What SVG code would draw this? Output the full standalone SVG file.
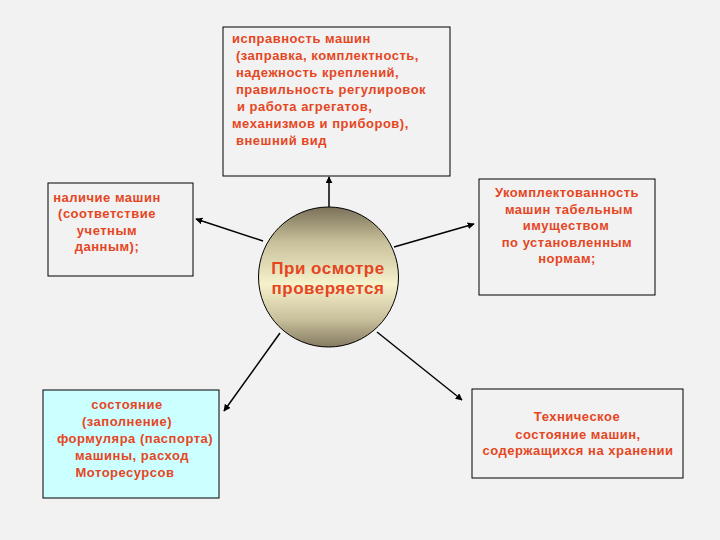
<svg xmlns="http://www.w3.org/2000/svg" width="720" height="540" viewBox="0 0 720 540">
<defs>
<style>
.box{fill:#f2f2f2;stroke:#000;stroke-width:1}
.t{font-family:"Liberation Sans",Arial,sans-serif;font-weight:bold;font-size:13px;fill:#e5461f;letter-spacing:0.5px}
.c{text-anchor:middle}
.conn{stroke:#000;stroke-width:1.5;fill:none;marker-end:url(#ah)}
</style>
<marker id="ah" viewBox="0 0 10 10" refX="9" refY="5" markerWidth="7" markerHeight="7" markerUnits="userSpaceOnUse" orient="auto">
<path d="M0,0 L10,5 L0,10 z" fill="#000"/>
</marker>
<linearGradient id="sph" x1="0" y1="0" x2="0" y2="1">
<stop offset="0" stop-color="#7a715a"/>
<stop offset="0.25" stop-color="#c8c09a"/>
<stop offset="0.55" stop-color="#f6f2cc"/>
<stop offset="0.8" stop-color="#c9c09c"/>
<stop offset="1" stop-color="#857b62"/>
</linearGradient>
</defs>
<rect width="720" height="540" fill="#f2f2f2"/>
<g id="connectors">
<line class="conn" x1="329" y1="207" x2="329" y2="177"/>
<line class="conn" x1="263" y1="241" x2="196" y2="219"/>
<line class="conn" x1="394" y1="247" x2="474" y2="224"/>
<line class="conn" x1="280" y1="333" x2="224" y2="411"/>
<line class="conn" x1="377" y1="332" x2="462" y2="400"/>
</g>
<g id="top">
<rect class="box" x="223" y="27" width="227" height="149"/>
<text class="t" x="232" y="43">исправность машин</text>
<text class="t" x="236" y="60">(заправка, комплектность,</text>
<text class="t" x="236" y="77">надежность креплений,</text>
<text class="t" x="236" y="94">правильность регулировок</text>
<text class="t" x="237" y="111">и работа агрегатов,</text>
<text class="t" x="232" y="128">механизмов и приборов),</text>
<text class="t" x="236" y="145">внешний вид</text>
</g>
<g id="left">
<rect class="box" x="48" y="183" width="145" height="93"/>
<text class="t c" x="107" y="202">наличие машин</text>
<text class="t c" x="107" y="218">(соответствие</text>
<text class="t c" x="107" y="235">учетным</text>
<text class="t c" x="107" y="251">данным);</text>
</g>
<g id="right">
<rect class="box" x="479" y="179" width="176" height="116"/>
<text class="t c" x="567" y="197">Укомплектованность</text>
<text class="t c" x="569" y="214">машин табельным</text>
<text class="t c" x="566" y="230">имуществом</text>
<text class="t c" x="567" y="247">по установленным</text>
<text class="t c" x="567" y="263">нормам;</text>
</g>
<g id="bottomleft">
<rect x="43" y="390" width="176" height="108" fill="#ccffff" stroke="#000" stroke-width="1"/>
<text class="t c" x="127" y="409">состояние</text>
<text class="t c" x="127" y="426">(заполнение)</text>
<text class="t c" x="135" y="443">формуляра (паспорта)</text>
<text class="t c" x="132" y="460">машины, расход</text>
<text class="t c" x="125" y="477">Моторесурсов</text>
</g>
<g id="bottomright">
<rect class="box" x="472" y="389" width="211" height="89"/>
<text class="t c" x="577" y="421">Техническое</text>
<text class="t c" x="578" y="439">состояние машин,</text>
<text class="t c" x="578" y="455">содержащихся на хранении</text>
</g>
<g id="center">
<circle cx="328.5" cy="277" r="70" fill="url(#sph)" stroke="#000" stroke-width="1"/>
<text class="t c" x="328" y="274" style="font-size:17px">При осмотре</text>
<text class="t c" x="328" y="294" style="font-size:17px">проверяется</text>
</g>
</svg>
